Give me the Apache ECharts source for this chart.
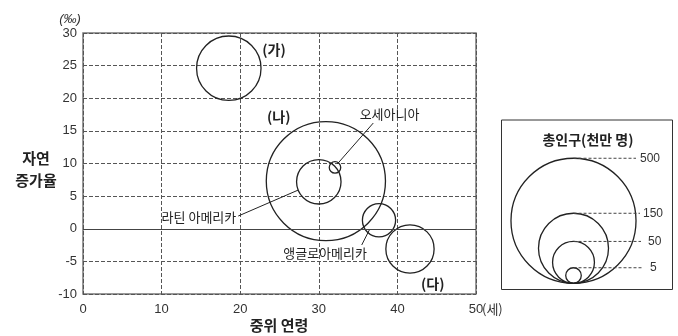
<!DOCTYPE html>
<html>
<head>
<meta charset="utf-8">
<script src="https://cdn.jsdelivr.net/npm/echarts@6/dist/echarts.min.js"></script>
<style>
  html, body { margin: 0; padding: 0; background: #fff; }
  #chart { width: 678px; height: 336px; }
</style>
</head>
<body>
<div id="chart"></div>
<script>
// 지역별 중위 연령(세), 자연 증가율(‰), 총인구(천만 명)
const regionNames = ['(가)', '(나)', '라틴 아메리카', '오세아니아', '앵글로아메리카', '(다)'];
const medianAge = [18.55, 30.9, 30.0, 32.06, 37.66, 41.6];
const growthRate = [24.6, 7.3, 7.2, 9.4, 1.3, -3.1];
const population = [126, 453, 57, 2.2, 30, 68];

const xTicks = [0, 10, 20, 30, 40, 50];
const yTicks = [-10, -5, 0, 5, 10, 15, 20, 25, 30];
const legendPop = [500, 150, 50, 5];

const FONT = 'Liberation Sans, Arial, sans-serif';
const KFONT = 'Noto Sans CJK KR, sans-serif';

// 반지름(px) = 인구 제곱근에 비례
function radius(p) {
  return 1.7 + 2.72 * Math.sqrt(p);
}

const chart = echarts.init(document.getElementById('chart'));

const points = medianAge.map(function (x, i) {
  return { name: regionNames[i], value: [x, growthRate[i], population[i]] };
});

chart.setOption({
  animation: false,
  grid: {
    left: 83, top: 33, right: 202, bottom: 42,
    show: true, borderColor: '#777', borderWidth: 1.5
  },
  xAxis: {
    type: 'value',
    min: xTicks[0], max: xTicks[xTicks.length - 1], interval: 10,
    axisLine: { show: false },
    axisTick: { show: false },
    axisLabel: { margin: 9, color: '#333', fontSize: 13, fontFamily: FONT },
    splitLine: { lineStyle: { color: '#555', type: [4, 2], width: 1 } }
  },
  yAxis: {
    type: 'value',
    min: yTicks[0], max: yTicks[yTicks.length - 1], interval: 5,
    axisLine: { show: false },
    axisTick: { show: false },
    axisLabel: { margin: 6, color: '#333', fontSize: 13, fontFamily: FONT },
    splitLine: { lineStyle: { color: '#555', type: [4, 2], width: 1 } }
  },
  series: [{
    type: 'scatter',
    data: points,
    symbol: 'circle',
    symbolSize: function (v) { return radius(v[2]) * 2; },
    itemStyle: { color: 'rgba(0,0,0,0)', borderColor: '#222', borderWidth: 1.3, opacity: 1 },
    markLine: {
      silent: true,
      symbol: ['none', 'none'],
      label: { show: false },
      lineStyle: { color: '#444', type: 'solid', width: 1 },
      data: [{ yAxis: 0 }]
    }
  }]
});

// 주석(라벨, 지시선): 데이터 좌표 -> 픽셀
function px(x, y) {
  return chart.convertToPixel({ gridIndex: 0 }, [x, y]);
}

const labelPos = [
  [24.3, 27.4, 'bold', 14],
  [24.9, 17.2, 'bold', 14],
  [19.5, 1.85, 'normal', 13],
  [39.0, 17.6, 'normal', 13],
  [30.8, -3.76, 'normal', 13],
  [44.5, -8.4, 'bold', 14]
];
const leaders = [
  [[19.75, 1.95], [27.4, 5.94]],
  [[36.93, 16.2], [32.35, 9.92]],
  [[35.46, -2.49], [36.43, -0.19]]
];

const g = [];
labelPos.forEach(function (l, i) {
  const p = px(l[0], l[1]);
  g.push({
    type: 'text', x: p[0], y: p[1],
    style: {
      text: regionNames[i], fill: '#222',
      font: l[2] + ' ' + l[3] + 'px ' + KFONT,
      align: i === 2 ? 'right' : 'center', verticalAlign: 'middle'
    }
  });
});
leaders.forEach(function (seg) {
  const a = px(seg[0][0], seg[0][1]);
  const b = px(seg[1][0], seg[1][1]);
  g.push({
    type: 'line',
    shape: { x1: a[0], y1: a[1], x2: b[0], y2: b[1] },
    style: { stroke: '#222', lineWidth: 1 }
  });
});

// 축 제목
const endX = px(50, -10);
g.push(
  { type: 'text', x: endX[0] + 6, y: endX[1] + 15,
    style: { text: '(세)', fill: '#333', font: '13px ' + KFONT, align: 'left', verticalAlign: 'middle' } },
  { type: 'text', x: 70, y: 19,
    style: { text: '(‰)', fill: '#333', font: 'italic 13px ' + FONT, align: 'center', verticalAlign: 'middle' } },
  { type: 'text', x: 36, y: 169,
    style: { text: '자연\n증가율', fill: '#222', font: 'bold 15px ' + KFONT, align: 'center', verticalAlign: 'middle', lineHeight: 22 } },
  { type: 'text', x: 279, y: 325,
    style: { text: '중위 연령', fill: '#222', font: 'bold 15px ' + KFONT, align: 'center', verticalAlign: 'middle' } }
);

// 범례 상자
const boxL = 501.5, boxT = 120, boxW = 171, boxH = 169.5;
const cx = 573.5, baseY = 283.3;
const lineEnd = [636, 640, 641, 642];
const labelX = [640, 643, 648, 650];
g.push(
  { type: 'rect', shape: { x: boxL, y: boxT, width: boxW, height: boxH },
    style: { fill: 'none', stroke: '#333', lineWidth: 1 } },
  { type: 'text', x: 588, y: 140,
    style: { text: '총인구(천만 명)', fill: '#222', font: 'bold 14px ' + KFONT, align: 'center', verticalAlign: 'middle' } }
);
legendPop.forEach(function (p, i) {
  const r = radius(p);
  const top = baseY - 2 * r;
  g.push(
    { type: 'circle', shape: { cx: cx, cy: baseY - r, r: r },
      style: { fill: 'none', stroke: '#222', lineWidth: 1.3 } },
    { type: 'line', shape: { x1: cx, y1: top, x2: lineEnd[i], y2: top },
      style: { stroke: '#444', lineWidth: 1, lineDash: [3, 2] } },
    { type: 'text', x: labelX[i], y: top,
      style: { text: String(p), fill: '#333', font: '12px ' + FONT, align: 'left', verticalAlign: 'middle' } }
  );
});

chart.setOption({ graphic: g });
</script>
</body>
</html>
